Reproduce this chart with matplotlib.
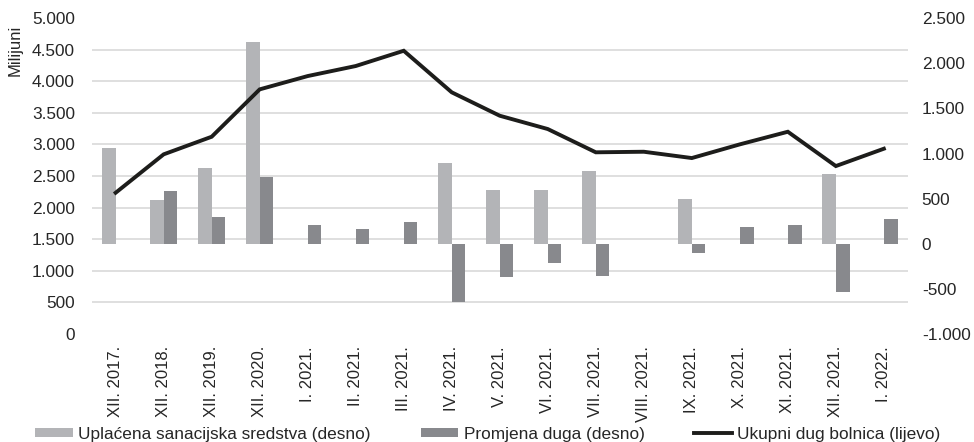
# Hospital debt: total (left axis) vs. recapitalisation funds and change in debt (right axis)

import numpy as np
import matplotlib
matplotlib.use('Agg')
import matplotlib.pyplot as plt

plt.rcParams['font.family'] = ['Liberation Sans', 'DejaVu Sans']
plt.rcParams['font.size'] = 12

periods = ['XII. 2017.', 'XII. 2018.', 'XII. 2019.', 'XII. 2020.', 'I. 2021.',
           'II. 2021.', 'III. 2021.', 'IV. 2021.', 'V. 2021.', 'VI. 2021.',
           'VII. 2021.', 'VIII. 2021.', 'IX. 2021.', 'X. 2021.', 'XI. 2021.',
           'XII. 2021.', 'I. 2022.']

# right axis, millions
uplacena = [1060, 480, 835, 2233, 0, 0, 0, 894, 595, 595, 809, 0, 491, 0, 0, 776, 0]
promjena = [0, 580, 295, 739, 203, 159, 236, -651, -371, -212, -360, -8, -101, 188, 206, -533, 270]
# left axis, millions
ukupni_dug = [2235, 2844, 3123, 3874, 4085, 4244, 4486, 3827, 3456, 3245, 2876, 2885,
              2785, 3002, 3202, 2658, 2933]

c_light = '#b3b4b7'
c_dark = '#88898d'
c_line = '#1d1d1b'
c_text = '#262626'

def fmt(v):
    return f'{v:,}'.replace(',', '.')

fig = plt.figure(figsize=(9.74, 4.42), dpi=100)
ax = fig.add_axes([0.0941, 0.245, 0.838, 0.7135])
ax2 = ax.twinx()

x = np.arange(len(periods))
w = 0.285
ax.bar(x - w / 2, uplacena, width=w, color=c_light, zorder=2,
       label='Uplaćena sanacijska sredstva (desno)')
ax.bar(x + w / 2, promjena, width=w, color=c_dark, zorder=2,
       label='Promjena duga (desno)')

ax.set_xlim(-0.5, len(periods) - 0.5)
ax.set_ylim(-1000, 2500)
ax.yaxis.tick_right()
ax.set_yticks(np.arange(-1000, 2501, 500))
ax.set_yticklabels([fmt(v) for v in range(-1000, 2501, 500)])
ax.set_yticks(np.linspace(-1000, 2500, 11), minor=True)
ax.grid(False)
ax.grid(which='minor', axis='y', color='#d9d9d9', linewidth=1.2, zorder=0)
ax.tick_params(axis='y', which='both', length=0, pad=10, colors=c_text, labelsize=12.4)
ax.set_xticks(x)
ax.set_xticklabels(periods, rotation=90, va='top', ha='center')
ax.tick_params(axis='x', length=0, pad=9, colors=c_text, labelsize=12)
for s in ax.spines.values():
    s.set_visible(False)

ax2.plot(x, ukupni_dug, color=c_line, linewidth=2.8, solid_joinstyle='miter',
         label='Ukupni dug bolnica (lijevo)', zorder=3)
ax2.set_ylim(0, 5000)
ax2.yaxis.tick_left()
ax2.yaxis.set_label_position('left')
ax2.set_yticks(np.arange(0, 5001, 500))
ax2.set_yticklabels([fmt(v) for v in range(0, 5001, 500)])
ax2.tick_params(axis='y', length=0, pad=12, colors=c_text, labelsize=12.4)
ax2.set_ylabel('Milijuni', fontsize=12, color=c_text)
ax2.yaxis.set_label_coords(-0.084, 0.9)
for s in ax2.spines.values():
    s.set_visible(False)

h1, l1 = ax.get_legend_handles_labels()
h2, l2 = ax2.get_legend_handles_labels()
leg = fig.legend(h1 + h2, l1 + l2, loc='center left', bbox_to_anchor=(0.036, 0.018),
                 ncol=3, frameon=False, fontsize=12.4, handlelength=2.2,
                 handleheight=0.5, handletextpad=0.3, columnspacing=2.9,
                 borderpad=0, borderaxespad=0)
for t in leg.get_texts():
    t.set_color(c_text)

fig.savefig('out.png', dpi=100)
